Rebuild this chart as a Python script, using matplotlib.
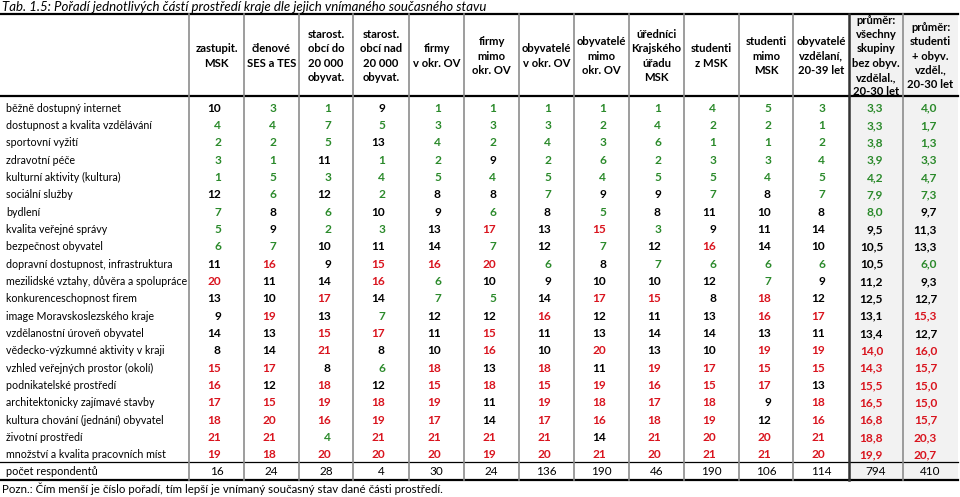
import numpy as np
import matplotlib.pyplot as plt
from matplotlib.patches import Rectangle

plt.rcParams['font.family'] = ['Lato', 'DejaVu Sans']

title = 'Tab. 1.5: Pořadí jednotlivých částí prostředí kraje dle jejich vnímaného současného stavu'
note = 'Pozn.: Čím menší je číslo pořadí, tím lepší je vnímaný současný stav dané části prostředí.'

headers = ['zastupit.\nMSK', 'členové\nSES a TES', 'starost.\nobcí do\n20 000\nobyvat.',
           'starost.\nobcí nad\n20 000\nobyvat.', 'firmy\nv okr. OV', 'firmy\nmimo\nokr. OV',
           'obyvatelé\nv okr. OV', 'obyvatelé\nmimo\nokr. OV', 'úředníci\nKrajského\núřadu\nMSK',
           'studenti\nz MSK', 'studenti\nmimo\nMSK', 'obyvatelé\nvzdělaní,\n20-39 let',
           'průměr:\nvšechny\nskupiny\nbez obyv.\nvzdělal.,\n20-30 let',
           'průměr:\nstudenti\n+ obyv.\nvzděl.,\n20-30 let']

items = ['běžně dostupný internet', 'dostupnost a kvalita vzdělávání', 'sportovní vyžití',
         'zdravotní péče', 'kulturní aktivity (kultura)', 'sociální služby', 'bydlení',
         'kvalita veřejné správy', 'bezpečnost obyvatel', 'dopravní dostupnost, infrastruktura',
         'mezilidské vztahy, důvěra a spolupráce', 'konkurenceschopnost firem',
         'image Moravskoslezského kraje', 'vzdělanostní úroveň obyvatel',
         'vědecko-výzkumné aktivity v kraji', 'vzhled veřejných prostor (okolí)',
         'podnikatelské prostředí', 'architektonicky zajímavé stavby',
         'kultura chování (jednání) obyvatel', 'životní prostředí',
         'množství a kvalita pracovních míst']

ranks = [
    [10, 3, 1, 9, 1, 1, 1, 1, 1, 4, 5, 3],
    [4, 4, 7, 5, 3, 3, 3, 2, 4, 2, 2, 1],
    [2, 2, 5, 13, 4, 2, 4, 3, 6, 1, 1, 2],
    [3, 1, 11, 1, 2, 9, 2, 6, 2, 3, 3, 4],
    [1, 5, 3, 4, 5, 4, 5, 4, 5, 5, 4, 5],
    [12, 6, 12, 2, 8, 8, 7, 9, 9, 7, 8, 7],
    [7, 8, 6, 10, 9, 6, 8, 5, 8, 11, 10, 8],
    [5, 9, 2, 3, 13, 17, 13, 15, 3, 9, 11, 14],
    [6, 7, 10, 11, 14, 7, 12, 7, 12, 16, 14, 10],
    [11, 16, 9, 15, 16, 20, 6, 8, 7, 6, 6, 6],
    [20, 11, 14, 16, 6, 10, 9, 10, 10, 12, 7, 9],
    [13, 10, 17, 14, 7, 5, 14, 17, 15, 8, 18, 12],
    [9, 19, 13, 7, 12, 12, 16, 12, 11, 13, 16, 17],
    [14, 13, 15, 17, 11, 15, 11, 13, 14, 14, 13, 11],
    [8, 14, 21, 8, 10, 16, 10, 20, 13, 10, 19, 19],
    [15, 17, 8, 6, 18, 13, 18, 11, 19, 17, 15, 15],
    [16, 12, 18, 12, 15, 18, 15, 19, 16, 15, 17, 13],
    [17, 15, 19, 18, 19, 11, 19, 18, 17, 18, 9, 18],
    [18, 20, 16, 19, 17, 14, 17, 16, 18, 19, 12, 16],
    [21, 21, 4, 21, 21, 21, 21, 14, 21, 20, 20, 21],
    [19, 18, 20, 20, 20, 19, 20, 21, 20, 21, 21, 20],
]
avg_all = [3.3, 3.3, 3.8, 3.9, 4.2, 7.9, 8.0, 9.5, 10.5, 10.5, 11.2, 12.5, 13.1, 13.4,
           14.0, 14.3, 15.5, 16.5, 16.8, 18.8, 19.9]
avg_stud = [4.0, 1.7, 1.3, 3.3, 4.7, 7.3, 9.7, 11.3, 13.3, 6.0, 9.3, 12.7, 15.3, 12.7,
            16.0, 15.7, 15.0, 15.0, 15.7, 20.3, 20.7]
respondents = [16, 24, 28, 4, 30, 24, 136, 190, 46, 190, 106, 114, 794, 410]

GREEN = '#2b8a2b'
RED = '#d9141e'

def rank_color(v, lo, hi):
    if v <= lo:
        return GREEN
    if v >= hi:
        return RED
    return 'black'

W, H = 960, 497
fig = plt.figure(figsize=(W / 100, H / 100), dpi=100)
ax = fig.add_axes([0, 0, 1, 1])
ax.set_xlim(0, W)
ax.set_ylim(H, 0)
ax.axis('off')

edges = [189, 244, 299, 353, 409, 464, 519, 574, 629, 684, 739, 793, 849, 903, 958]
top, head_bot = 14, 96
row0, dy = 108, 17.35
sep_y, resp_y, bot = 462, 471.5, 480

# grey background of the two average columns
ax.add_patch(Rectangle((edges[12], top), edges[14] - edges[12], bot - top,
                       facecolor='#f2f2f2', edgecolor='none', zorder=0))

ax.text(2, 7, title, fontsize=9.5, style='italic', va='center', ha='left')

# header
for j, h in enumerate(headers):
    cx = (edges[j] + edges[j + 1]) / 2
    ax.text(cx, (top + head_bot) / 2 + 1, h, fontsize=8.1, fontweight='bold',
            ha='center', va='center', linespacing=1.36)

# data rows
for i, name in enumerate(items):
    y = row0 + i * dy
    ax.text(6, y, name, fontsize=7.7, ha='left', va='center')
    for j, v in enumerate(ranks[i]):
        ax.text(edges[j] + 32, y, str(v), fontsize=8.6, fontweight='bold', ha='right',
                va='center', color=rank_color(v, 7, 15))
    for j, v in zip((12, 13), (avg_all[i], avg_stud[i])):
        ax.text(edges[j] + 34, y, f'{v:.1f}'.replace('.', ','), fontsize=8.6,
                fontweight='bold', ha='right', va='center', color=rank_color(v, 8, 14))

ax.text(6, resp_y, 'počet respondentů', fontsize=7.9, ha='left', va='center')
for j, n in enumerate(respondents):
    cx = (edges[j] + edges[j + 1]) / 2
    ax.text(cx, resp_y, str(n), fontsize=8.5, ha='center', va='center')

ax.text(2, 489, note, fontsize=8.3, ha='left', va='center')

# grid lines
ax.plot([0, edges[-1]], [top, top], color='black', lw=1.6)
ax.plot([0, edges[-1]], [head_bot, head_bot], color='black', lw=1.6)
ax.plot([0, edges[-1]], [sep_y, sep_y], color='black', lw=0.9)
ax.plot([0, edges[-1]], [bot, bot], color='black', lw=1.6)
for k, x in enumerate(edges[:-1]):
    if k == 12:
        ax.plot([x, x], [top, bot], color='#333333', lw=1.8)
    else:
        ax.plot([x, x], [top, bot], color='#8c8c8c', lw=1.2)

fig.savefig('out.png', dpi=100)
